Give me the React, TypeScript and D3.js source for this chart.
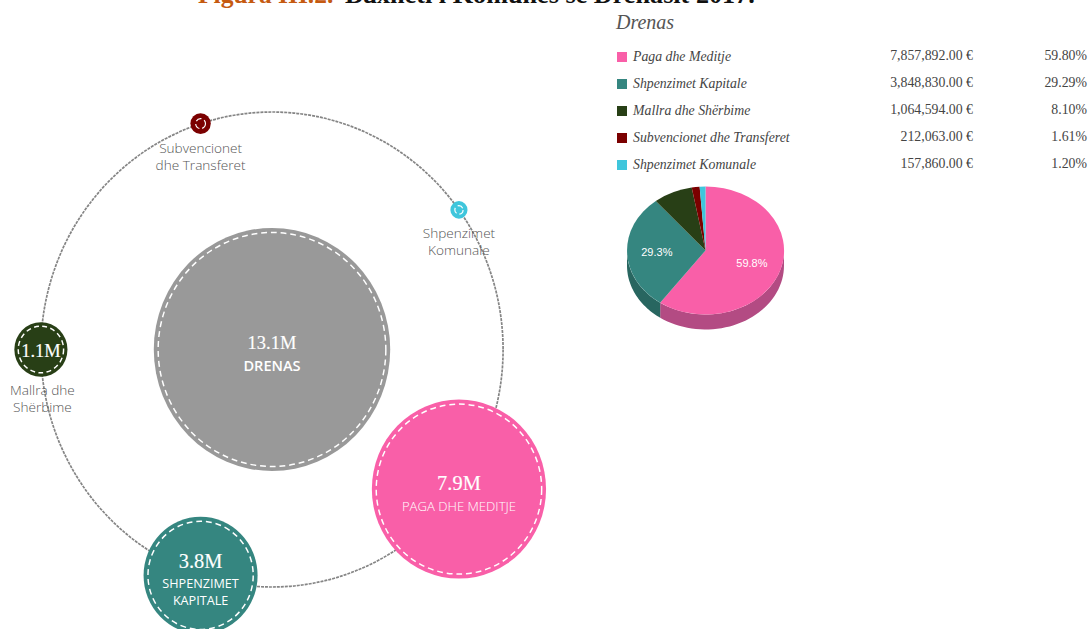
import React from "react";
import * as d3 from "d3";

const categories = ["Paga dhe Meditje", "Shpenzimet Kapitale", "Mallra dhe Shërbime", "Subvencionet dhe Transferet", "Shpenzimet Komunale"];
const amounts = [7857892, 3848830, 1064594, 212063, 157860];
const amountLabels = ["7,857,892.00 €", "3,848,830.00 €", "1,064,594.00 €", "212,063.00 €", "157,860.00 €"];
const percents = ["59.80%", "29.29%", "8.10%", "1.61%", "1.20%"];
const shortValues = ["7.9M", "3.8M", "1.1M", "", ""];
const colors = ["#F95FA8", "#358680", "#283F16", "#7B0000", "#3FC6DC"];
const sideColors = ["#B34B83", "#286660", "#1c2c10", "#560000", "#2c8b9a"];
const bubbleLabels = [["PAGA DHE MEDITJE"], ["SHPENZIMET", "KAPITALE"], ["Mallra dhe", "Shërbime"], ["Subvencionet", "dhe Transferet"], ["Shpenzimet", "Komunale"]];
const totalValue = 13141239;
const totalLabel = "13.1M";
const totalName = "DRENAS";
const pieLabels = ["59.8%", "29.3%", "", "", ""];

const sans = "'Open Sans', sans-serif";
const valueFont = "'Liberation Serif', serif";
const bookFont = "'Liberation Serif', serif";

const cx = 272, cy = 349.5, sx = 0.973;
const orbitR = 237.5;
const rScale = d3.scalePow().exponent(0.594).domain([0, totalValue]).range([0, 121.5]);

function Bubble({ x, y, r, fill, inset, dash, sw = 1.5, children }: any) {
  return (
    <g transform={`translate(${x},${y}) scale(${sx},1)`}>
      <circle r={r} fill={fill} />
      <circle r={r - inset} fill="none" stroke="#fff" strokeWidth={sw} strokeDasharray={dash} />
      {children}
    </g>
  );
}

export default function App() {
  const pieGen = d3.pie<number>().sort(null).value((d) => d).startAngle(0).endAngle(2 * Math.PI);
  const arcs = pieGen(amounts);
  const arc = d3.arc<any>().innerRadius(0).outerRadius(1);
  const pcx = 705.5, pcy = 250.5, prx = 78.5, pry = 64, depth = 15;
  const sidePath = (a0: number, a1: number) => {
    const s = Math.max(a0, Math.PI / 2), e = Math.min(a1, (3 * Math.PI) / 2);
    if (e <= s) return null;
    const ts = d3.range(0, 41).map((i) => s + ((e - s) * i) / 40);
    const pts: [number, number][] = [
      ...ts.map((t) => [pcx + prx * Math.sin(t), pcy - pry * Math.cos(t)] as [number, number]),
      ...ts.slice().reverse().map((t) => [pcx + prx * Math.sin(t), pcy - pry * Math.cos(t) + depth] as [number, number]),
    ];
    return d3.line()(pts) + "Z";
  };
  const labelArc = d3.arc<any>().innerRadius(0.62).outerRadius(0.62);
  const valueStroke = { stroke: "#fff", strokeWidth: 0.15 };

  return (
    <svg width={1089} height={629} style={{ position: "absolute", left: 0, top: 0, display: "block" }}>
      <rect width={1089} height={629} fill="#fff" />
      <text x={198} y={3} fontFamily={bookFont} fontWeight="bold" fontSize={25.5} fill="#C55A11">Figura III.2.</text>
      <text x={345} y={3} fontFamily={bookFont} fontWeight="bold" fontSize={26.2} fill="#111">Buxheti i Komunës së Drenasit 2017.</text>

      <ellipse cx={cx} cy={cy} rx={orbitR * sx} ry={orbitR} fill="none" stroke="#858585" strokeWidth={1.7} strokeDasharray="3 1" />

      <Bubble x={cx} y={cy} r={rScale(totalValue)} fill="#999999" inset={4.5} dash="6 4">
        <text textAnchor="middle" y={-1} fontFamily={valueFont} fontSize={19} fill="#fff" {...valueStroke}>{totalLabel}</text>
        <text textAnchor="middle" y={22} fontFamily={sans} fontWeight={600} fontSize={15} fill="#fff">{totalName}</text>
      </Bubble>

      {categories.map((c, i) => {
        const a = ((36 + 72 * i) * Math.PI) / 180;
        const x = cx + orbitR * sx * Math.cos(a);
        const y = cy + orbitR * Math.sin(a);
        const r = rScale(amounts[i]);
        if (i < 2) {
          return (
            <Bubble key={c} x={x} y={y} r={r} fill={colors[i]} inset={4.5} dash="6 4">
              <text textAnchor="middle" y={i === 0 ? 1 : -7} fontFamily={valueFont} fontSize={21} fill="#fff" {...valueStroke}>{shortValues[i]}</text>
              {bubbleLabels[i].map((l, k) => (
                <text key={l} textAnchor="middle" y={(i === 0 ? 22 : 13) + k * 17} fontFamily={sans} fontWeight={i === 0 ? 300 : 400} fontSize={i === 0 ? 13.5 : 13} fill="#fff">{l}</text>
              ))}
            </Bubble>
          );
        }
        return (
          <g key={c}>
            {i === 2 ? (
              <Bubble x={x} y={y} r={r} fill={colors[i]} inset={4} dash="5 3.5">
                <text textAnchor="middle" y={7} fontFamily={valueFont} fontSize={19} fill="#fff" {...valueStroke}>{shortValues[i]}</text>
              </Bubble>
            ) : (
              <Bubble x={x} y={y} r={r} fill={colors[i]} inset={r * 0.52} dash="6 3" sw={1.2}>
                {null}
              </Bubble>
            )}
            {bubbleLabels[i].map((l, k) => (
              <text key={l} x={i === 2 ? x + 1.5 : x} y={y + r + (i === 2 ? 18 : 19) + k * 17} textAnchor="middle" fontFamily={sans} fontWeight={300} fontSize={13.6} fill="#555">{l}</text>
            ))}
          </g>
        );
      })}

      <text x={616} y={29} fontFamily={bookFont} fontStyle="italic" fontSize={20} fill="#555">Drenas</text>
      {categories.map((c, i) => {
        const y = 57 + i * 27;
        return (
          <g key={c}>
            <rect x={617} y={y - 5} width={10} height={10} fill={colors[i]} />
            <text x={633} y={y + 4} fontFamily={bookFont} fontStyle="italic" fontSize={13.8} fill="#444">{c}</text>
            <text x={973} y={y + 3} textAnchor="end" fontFamily={bookFont} fontSize={13.8} fill="#444">{amountLabels[i]}</text>
            <text x={1087} y={y + 3} textAnchor="end" fontFamily={bookFont} fontSize={13.8} fill="#444">{percents[i]}</text>
          </g>
        );
      })}

      {arcs.map((d, i) => {
        const p = sidePath(d.startAngle, d.endAngle);
        return p ? <path key={i} d={p} fill={sideColors[i]} /> : null;
      })}
      <g transform={`translate(${pcx},${pcy}) scale(${prx},${pry})`}>
        {arcs.map((d, i) => <path key={i} d={arc(d) as string} fill={colors[i]} />)}
      </g>
      {arcs.map((d, i) => {
        if (!pieLabels[i]) return null;
        const [lx, ly] = labelArc.centroid(d);
        return (
          <text key={i} x={pcx + lx * prx} y={pcy + ly * pry + 4} textAnchor="middle" fontFamily="'Liberation Sans', sans-serif" fontSize={11} fill="#fff">{pieLabels[i]}</text>
        );
      })}
    </svg>
  );
}
